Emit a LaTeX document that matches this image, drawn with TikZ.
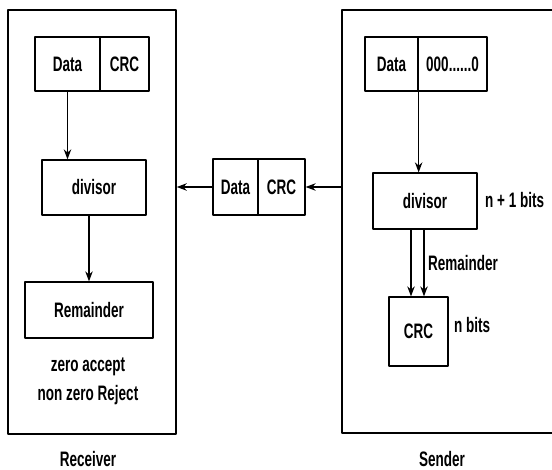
\documentclass[tikz,border=0pt]{standalone}
\usepackage{fontspec}
\setmainfont{Liberation Sans}
\usetikzlibrary{arrows.meta}

% stretched label text
\newcommand{\lbl}[1]{\scalebox{1}[1.55]{\bfseries #1}}

\begin{document}
\begin{tikzpicture}[x=1pt, y=-1pt, line join=round,
    box/.style={draw, line width=1.3pt, inner sep=0pt, font=\fontsize{13.5}{16}\selectfont},
    frame/.style={draw, line width=1.6pt, inner sep=0pt},
    arr/.style={line width=1.2pt, -{Stealth[length=10pt, width=7.5pt]}},
    txt/.style={inner sep=0pt, font=\fontsize{13.5}{16}\selectfont}]
      \useasboundingbox (0,0) rectangle (552,470);
      \clip (0,0) rectangle (552,470);

      % frames
      \node[frame, minimum width=168pt, minimum height=424pt] (recv) at (92,222) {};
      \node[frame, minimum width=220pt, minimum height=423pt] (send) at (452,221.5) {};
      \node[txt, anchor=base] (recvname) at (88,466) {\lbl{Receiver}};
      \node[txt, anchor=base] (sendname) at (442,466) {\lbl{Sender}};

      % receiver side
      \node[box, minimum width=65pt, minimum height=54pt] (rdata) at (67.5,64) {\lbl{Data}};
      \node[box, minimum width=49pt, minimum height=54pt] (rcrc) at (124.5,64) {\lbl{CRC}};
      \node[box, minimum width=104pt, minimum height=55pt] (rdiv) at (94,187.5) {\lbl{divisor}};
      \node[box, minimum width=128pt, minimum height=56pt] (rrem) at (89,310) {\lbl{Remainder}};
      \node[txt] (rzero) at (88,367) {\lbl{zero accept}};
      \node[txt] (rnonzero) at (88,395) {\lbl{non zero Reject}};
      \draw[arr] (rdata.south) -- (rdata.south |- rdiv.north);
      \draw[arr] (rrem.north |- rdiv.south) -- (rrem.north);

      % frame sent over
      \node[box, minimum width=45pt, minimum height=56pt] (mdata) at (235.5,187) {\lbl{Data}};
      \node[box, minimum width=47pt, minimum height=56pt] (mcrc) at (281.5,187) {\lbl{CRC}};
      \draw[arr] (mcrc.east -| send.west) -- (mcrc.east);
      \draw[arr] (mdata.west) -- (mdata.west -| recv.east);

      % sender side
      \node[box, minimum width=53pt, minimum height=54pt] (sdata) at (391.5,64) {\lbl{Data}};
      \node[box, minimum width=69pt, minimum height=54pt] (szero) at (452.5,64) {\lbl{000......0}};
      \node[box, minimum width=104pt, minimum height=56pt] (sdiv) at (425,201) {\lbl{divisor}};
      \node[box, minimum width=59pt, minimum height=69pt] (scrc) at (418.5,331.5) {\lbl{CRC}};
      \node[txt, anchor=west] (sbits) at (485,200) {\lbl{n + 1 bits}};
      \node[txt, anchor=west] (srem) at (428,263) {\lbl{Remainder}};
      \node[txt, anchor=west] (snbits) at (454,325) {\lbl{n bits}};
      \coordinate (sleft) at (411,0);
      \coordinate (sright) at (424,0);
      \draw[arr] (sdata.south east) -- (sdata.south east |- sdiv.north);
      \draw[arr] (sleft |- sdiv.south) -- (sleft |- scrc.north);
      \draw[arr] (sright |- sdiv.south) -- (sright |- scrc.north);

\end{tikzpicture}
\end{document}
